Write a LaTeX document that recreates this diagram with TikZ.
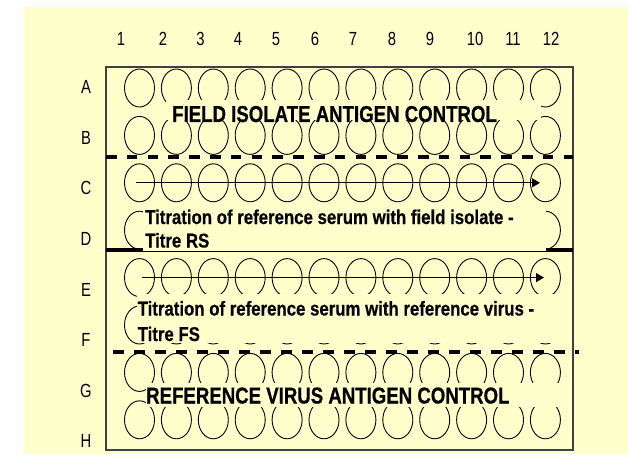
\documentclass[tikz,border=0pt]{standalone}
\usepackage{fontspec}
\setmainfont{Liberation Sans}
\newfontfamily\lblfont[FakeStretch=0.78]{Liberation Sans}
\newfontfamily\capfont[FakeStretch=0.81,BoldFeatures={FakeBold=0.6}]{Liberation Sans}
\newfontfamily\txtfont[FakeStretch=0.84,BoldFeatures={FakeBold=0.5}]{Liberation Sans}
\usetikzlibrary{arrows.meta,shapes.geometric}
\definecolor{bgyellow}{HTML}{FFFFCC}
\begin{document}
\begin{tikzpicture}[x=1pt,y=-1pt,
  well/.style={ellipse,draw=black,line width=0.9pt,minimum width=30pt,minimum height=38pt,inner sep=0pt},
  plate/.style={draw=black!75,line width=1.1pt},
  cover/.style={fill=bgyellow},
  divider/.style={line width=3.5pt,black},
  titarrow/.style={line width=1.4pt,-{Triangle[length=8pt,width=9pt]}},
  lbl/.style={font={\lblfont\fontsize{19pt}{22pt}\selectfont},inner sep=0pt,anchor=base},
  caps/.style={font={\capfont\bfseries\fontsize{23pt}{27pt}\selectfont},inner sep=0pt,anchor=base west},
  txt/.style={font={\txtfont\bfseries\fontsize{20pt}{24pt}\selectfont},inner sep=0pt,anchor=base west}]
\useasboundingbox (0,0) rectangle (628,462);
\fill[bgyellow] (24,7) rectangle (628,454);
\draw[plate] (106,67) rectangle (573,450);
% wells
\foreach \r [count=\i from 0] in {A,B,C,D,E,F,G,H}{
  \foreach \c in {1,...,12}{
    \node[well] (w-\r-\c) at ({139.5+36.9*(\c-1)},{88+47.4*\i}) {};
  }
}
% solid divider (partly covered by text box)
\draw[divider] (106,250) -- (573,250);
% text background boxes
\fill[cover] (166,100) rectangle (541,120);
\fill[cover] (143,206) rectangle (546,250.6);
\fill[cover] (137,294) rectangle (567,343);
\fill[cover] (146,383) rectangle (567,407);
% dashed dividers
\draw[divider,dash pattern=on 10.5pt off 10.3pt] (106,157) -- (573,157);
\draw[divider,dash pattern=on 10.5pt off 10.5pt] (113,352) -- (579,352);
% titration arrows
\coordinate (ca) at (136,182.8);
\coordinate (cb) at (540,182.8);
\coordinate (ea) at (142,277.6);
\coordinate (eb) at (544,277.6);
\draw[titarrow] (ca) -- (cb);
\draw[titarrow] (ea) -- (eb);
% column labels
\foreach \n/\x in {1/121,2/163,3/200.5,4/238,5/276,6/315,7/353,8/392,9/430,10/475,11/513,12/551}{
  \node[lbl] (col-\n) at (\x,45.5) {\n};
}
% row labels
\foreach \r [count=\i from 0] in {A,B,C,D,E,F,G,H}{
  \node[lbl] (row-\r) at (86,{94+50.5*\i}) {\r};
}
% texts
\node[caps] (fic) at (172,122) {FIELD ISOLATE ANTIGEN CONTROL};
\node[txt] (rs1) at (145,224) {Titration of reference serum with field isolate -};
\node[txt] (rs2) at (145,247.5) {Titre RS};
\node[txt] (fs1) at (137.5,315.5) {Titration of reference serum with reference virus -};
\node[txt] (fs2) at (137.5,341) {Titre FS};
\node[caps] (rvc) at (146,403.5) {REFERENCE VIRUS ANTIGEN CONTROL};
\end{tikzpicture}
\end{document}
